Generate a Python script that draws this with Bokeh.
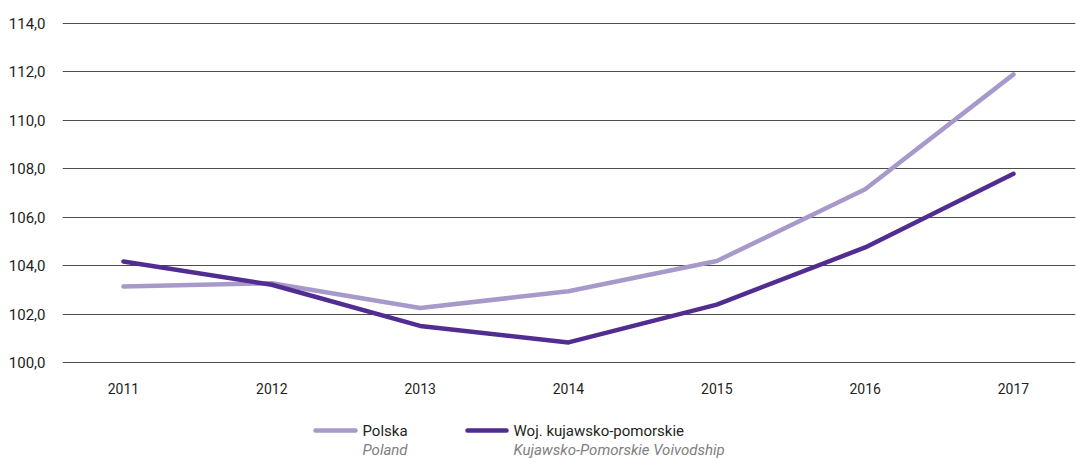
from bokeh.plotting import figure
from bokeh.layouts import column
from bokeh.models import Range1d, FixedTicker
from bokeh.core.properties import value
from bokeh.embed import file_html
from bokeh.resources import INLINE

years = [2011, 2012, 2013, 2014, 2015, 2016, 2017]
polska = [103.15, 103.28, 102.26, 102.95, 104.2, 107.16, 111.9]
kujawsko = [104.18, 103.22, 101.52, 100.84, 102.4, 104.76, 107.8]
y_ticks = [100, 102, 104, 106, 108, 110, 112, 114]
y_tick_labels = {t: f"{t:.1f}".replace(".", ",") for t in y_ticks}

legend_main = ["Polska", "Woj. kujawsko-pomorskie"]
legend_sub = ["Poland", "Kujawsko-Pomorskie Voivodship"]

C_LIGHT = "#a899cb"
C_DARK = "#512d91"
FONT = "Roboto"

p = figure(width=1076, height=403, output_backend="svg", toolbar_location=None,
           x_range=Range1d(2010.589, 2017.418), y_range=Range1d(99.97, 114.04),
           min_border_left=62, min_border_right=1, min_border_top=22, min_border_bottom=40)
p.outline_line_color = None
p.background_fill_color = "white"

p.line(years, polska, line_color=C_LIGHT, line_width=4.5, line_cap="round", line_join="round")
p.line(years, kujawsko, line_color=C_DARK, line_width=4.5, line_cap="round", line_join="round")

p.xaxis.ticker = FixedTicker(ticks=years)
p.yaxis.ticker = FixedTicker(ticks=y_ticks)
p.yaxis.major_label_overrides = y_tick_labels
p.xaxis.major_label_overrides = {y: str(y) for y in years}
for ax in (p.xaxis[0], p.yaxis[0]):
    ax.axis_line_color = None
    ax.major_tick_line_color = None
    ax.minor_tick_line_color = None
    ax.major_label_text_font = FONT
    ax.major_label_text_color = "#231f20"
p.yaxis.major_label_text_font_size = "15px"
p.xaxis.major_label_text_font_size = "14px"
p.yaxis.major_label_standoff = 11
p.xaxis.major_label_standoff = 13
p.xgrid.grid_line_color = None
p.ygrid.grid_line_color = "#4d4d4d"
p.ygrid.grid_line_width = 1

# legend strip (its frame is aligned with the main frame: 62..1075 px)
lg = figure(width=1076, height=55, output_backend="svg", toolbar_location=None,
            x_range=Range1d(62, 1075), y_range=Range1d(0, 55),
            min_border_left=62, min_border_right=1, min_border_top=0, min_border_bottom=0)
lg.outline_line_color = None
lg.axis.visible = False
lg.grid.visible = False

sw_x0 = [315, 467]
sw_x1 = [355, 506]
txt_x = [362, 513]
cols = [C_LIGHT, C_DARK]
lg.segment(x0=sw_x0, y0=[28, 28], x1=sw_x1, y1=[28, 28], line_color=cols,
           line_width=4.5, line_cap="round")
lg.text(x=txt_x, y=[28, 28], text=legend_main, text_font=value(FONT),
        text_font_size="15px", text_color="#231f20", text_baseline="middle")
lg.text(x=txt_x, y=[9, 9], text=legend_sub, text_font=value(FONT),
        text_font_size="15px", text_font_style="italic", text_color="#808080",
        text_baseline="middle")

layout = column(p, lg, spacing=0)
open("out.html", "w").write(file_html(layout, INLINE))
